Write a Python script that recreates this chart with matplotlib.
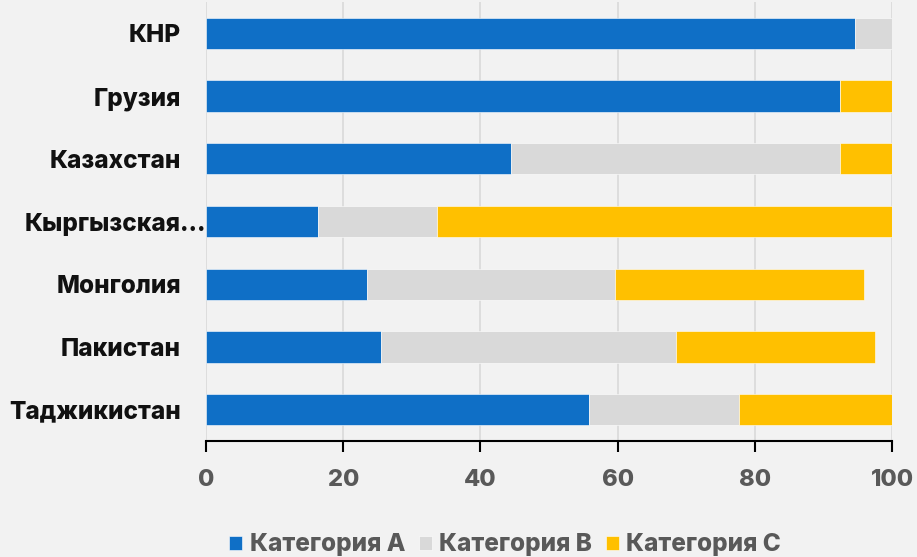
import matplotlib.pyplot as plt
from matplotlib.transforms import ScaledTranslation

countries = ["КНР", "Грузия", "Казахстан", "Кыргызская…", "Монголия", "Пакистан", "Таджикистан"]
cat_a = [94.6, 92.4, 44.5, 16.3, 23.5, 25.5, 55.8]
cat_b = [5.4, 0.0, 47.9, 17.4, 36.1, 43.0, 21.9]
cat_c = [0.0, 7.6, 7.6, 66.3, 36.3, 29.0, 22.3]
series_names = ["Категория A", "Категория B", "Категория C"]
colors = ["#0F6FC6", "#D9D9D9", "#FFC000"]
x_ticks = [0, 20, 40, 60, 80, 100]

plt.rcParams['font.family'] = ['Inter', 'DejaVu Sans']
plt.rcParams['font.weight'] = 'heavy'

fig = plt.figure(figsize=(9.17, 5.57), dpi=100, facecolor='#F2F2F2')
ax = fig.add_axes([206/917, 1 - 441/557, 686/917, 439/557])
ax.set_facecolor('#F2F2F2')

y = list(range(len(countries)))
left = [0.0] * len(countries)
for vals, name, col in zip([cat_a, cat_b, cat_c], series_names, colors):
    ax.barh(y, vals, left=left, height=0.5, color=col, label=name,
            edgecolor='white', linewidth=0.4, zorder=3)
    left = [l + v for l, v in zip(left, vals)]

ax.set_ylim(6.5, -0.5)
ax.set_xlim(0, 100)
ax.set_xticks(x_ticks)
ax.set_yticks(y)
ax.set_yticklabels(countries, fontsize=17.5, fontweight='heavy', color='#111111')
ax.tick_params(axis='y', length=0, pad=18)
ax.tick_params(axis='x', length=8, width=1.5, color='black', pad=12,
               labelsize=17, labelcolor='#595959')
for lbl in ax.get_xticklabels():
    lbl.set_fontweight('heavy')

# the truncated label sits closer to the axis
lbl = ax.get_yticklabels()[3]
lbl.set_transform(lbl.get_transform() + ScaledTranslation(25/100, 0, fig.dpi_scale_trans))

ax.grid(axis='x', color='#D9D9D9', linewidth=1.2, zorder=0)
for side in ['top', 'right', 'left']:
    ax.spines[side].set_visible(False)
ax.spines['bottom'].set_linewidth(1.5)
ax.spines['bottom'].set_color('black')

leg = fig.legend(loc='center', bbox_to_anchor=(505/917, 1 - 545/557), ncol=3,
                 frameon=False, fontsize=17.5, handlelength=0.55, handleheight=0.55,
                 handletextpad=0.3, columnspacing=0.55, labelcolor='#595959')
for t in leg.get_texts():
    t.set_fontweight('heavy')

fig.savefig('out.png', dpi=100, facecolor=fig.get_facecolor())
